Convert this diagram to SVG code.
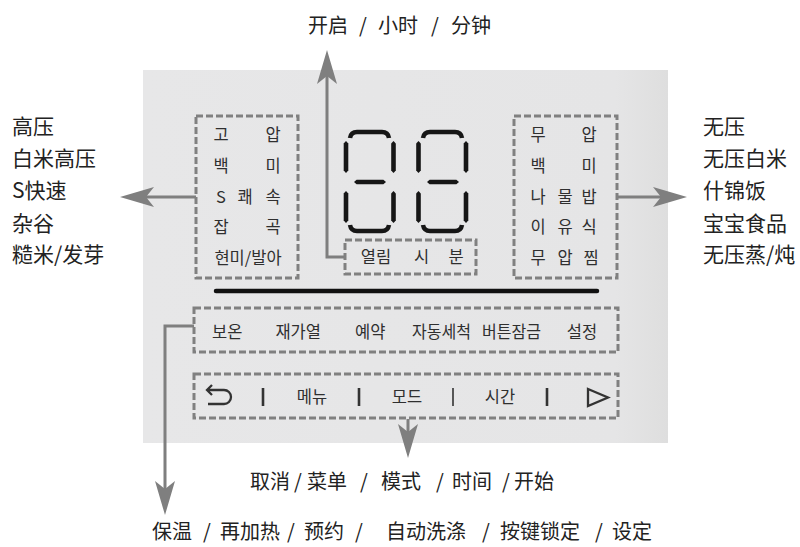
<svg xmlns="http://www.w3.org/2000/svg" xmlns:xlink="http://www.w3.org/1999/xlink" width="800" height="547" viewBox="0 0 800 547">
  <style>
    .zh { font-family: "Noto Sans CJK SC", "Noto Sans", sans-serif; font-size: 21px; fill: #222; }
    .zs { font-family: "Noto Sans CJK SC", "Noto Sans", sans-serif; font-size: 20px; fill: #222; }
    .ko { font-family: "Noto Sans CJK KR", "Noto Sans", sans-serif; font-size: 16.5px; fill: #2f2f2f; }
    .dash { fill: none; stroke: #808080; stroke-width: 3; stroke-dasharray: 7 3; }
    .conn { fill: none; stroke: #7f7f7f; stroke-width: 3; }
    .seg { fill: #161616; }
    .segc { fill: none; stroke: #161616; stroke-width: 4.5; }
    .ico { fill: none; stroke: #333; stroke-width: 2.3; }
  </style>
  <defs>
    <linearGradient id="pg" x1="0" y1="0" x2="1" y2="0">
      <stop offset="0" stop-color="#e7e7e8"/>
      <stop offset="0.9" stop-color="#e5e5e6"/>
      <stop offset="1" stop-color="#dedede"/>
    </linearGradient>
    <marker id="ah" viewBox="0 0 34 20" refX="8" refY="10" markerWidth="34" markerHeight="20" markerUnits="userSpaceOnUse" orient="auto">
      <path d="M0,0 L34,10 L0,20 L8,10 Z" fill="#7f7f7f"/>
    </marker>
    <path id="vseg" d="M0,0 L2.3,2.6 L2.3,29.4 L0,32 L-2.3,29.4 L-2.3,2.6 Z"/>
    <path id="hseg" d="M0,0 L2.6,-2.3 L29.4,-2.3 L32,0 L29.4,2.3 L2.6,2.3 Z"/>
  </defs>

  <rect width="800" height="547" fill="#ffffff"/>
  <g id="panel">
    <rect x="143" y="70" width="525" height="373" fill="url(#pg)"/>
    <line x1="216" y1="291" x2="597" y2="291" stroke="#111" stroke-width="4.5" stroke-linecap="round"/>
  </g>

  <g id="connectors">
    <path class="conn" d="M196,197 L146,197" marker-end="url(#ah)"/>
    <path class="conn" d="M617,197 L661,197" marker-end="url(#ah)"/>
    <path class="conn" d="M345,257 L327,257 L327,76" marker-end="url(#ah)"/>
    <path class="conn" d="M408,419 L408,432" marker-end="url(#ah)"/>
    <path class="conn" d="M194,326 L165,326 L165,489" marker-end="url(#ah)"/>
  </g>

  <g id="node-pressure-box">
    <rect class="dash" x="196" y="116" width="102" height="162"/>
    <text class="ko" text-anchor="middle">
      <tspan x="221" y="141">고</tspan><tspan x="275" y="141">압</tspan>
      <tspan x="221" y="172">백</tspan><tspan x="275" y="172">미</tspan>
      <tspan x="221" y="203">S</tspan><tspan x="245" y="203">쾌</tspan><tspan x="275" y="203">속</tspan>
      <tspan x="221" y="233">잡</tspan><tspan x="275" y="233">곡</tspan>
      <tspan x="248" y="264">현미/발아</tspan>
    </text>
  </g>

  <g id="node-nopressure-box">
    <rect class="dash" x="514" y="116" width="103" height="162"/>
    <text class="ko" text-anchor="middle">
      <tspan x="538" y="141">무</tspan><tspan x="591" y="141">압</tspan>
      <tspan x="538" y="172">백</tspan><tspan x="591" y="172">미</tspan>
      <tspan x="538" y="203">나</tspan><tspan x="565" y="203">물</tspan><tspan x="591" y="203">밥</tspan>
      <tspan x="538" y="233">이</tspan><tspan x="565" y="233">유</tspan><tspan x="591" y="233">식</tspan>
      <tspan x="538" y="264">무</tspan><tspan x="565" y="264">압</tspan><tspan x="591" y="264">찜</tspan>
    </text>
  </g>

  <g id="node-digits">
    <path class="segc" d="M350,138 Q351,132 357,132 L382,132 Q388,132 389,138"/>
    <use href="#vseg" class="seg" x="346" y="141"/>
    <use href="#vseg" class="seg" x="393.5" y="141"/>
    <use href="#hseg" class="seg" x="354" y="182"/>
    <use href="#vseg" class="seg" x="346" y="191"/>
    <use href="#vseg" class="seg" x="393.5" y="191"/>
    <path class="segc" d="M350,225 Q351,231 357,231 L382,231 Q388,231 389,225"/>

    <path class="segc" d="M423,138 Q424,132 430,132 L455,132 Q461,132 462,138"/>
    <use href="#vseg" class="seg" x="418.5" y="141"/>
    <use href="#vseg" class="seg" x="466" y="141"/>
    <use href="#hseg" class="seg" x="427" y="182"/>
    <use href="#vseg" class="seg" x="418.5" y="191"/>
    <use href="#vseg" class="seg" x="466" y="191"/>
    <path class="segc" d="M423,225 Q424,231 430,231 L455,231 Q461,231 462,225"/>
  </g>

  <g id="node-time-box">
    <rect class="dash" x="345" y="240" width="131" height="34"/>
    <text class="ko" text-anchor="middle" y="263">
      <tspan x="376">열림</tspan><tspan x="421.5">시</tspan><tspan x="456">분</tspan>
    </text>
  </g>

  <g id="node-function-box">
    <rect class="dash" x="194" y="308" width="424" height="44"/>
    <text class="ko" text-anchor="middle" y="338">
      <tspan x="229">보온</tspan>
      <tspan x="300">재가열</tspan>
      <tspan x="372">예약</tspan>
      <tspan x="582">설정</tspan>
    </text>
    <text class="ko" x="412" y="338" textLength="59" lengthAdjust="spacingAndGlyphs">자동세척</text>
    <text class="ko" x="482" y="338" textLength="59" lengthAdjust="spacingAndGlyphs">버튼잠금</text>
  </g>

  <g id="node-button-box">
    <rect class="dash" x="194" y="374" width="424" height="44"/>
    <path class="ico" d="M207,390 L224,390 A7,7 0 0 1 224,404 L208,404 M212,385 L207,390 L212,395"/>
    <line x1="263" y1="388" x2="263" y2="406" stroke="#333" stroke-width="2.6"/>
    <line x1="359" y1="388" x2="359" y2="406" stroke="#333" stroke-width="2.6"/>
    <line x1="453" y1="388" x2="453" y2="406" stroke="#333" stroke-width="1.6"/>
    <line x1="547" y1="388" x2="547" y2="406" stroke="#333" stroke-width="2.6"/>
    <text class="ko" text-anchor="middle" y="403">
      <tspan x="312">메뉴</tspan><tspan x="407">모드</tspan><tspan x="500">시간</tspan>
    </text>
    <path class="ico" d="M588,389 L608,397.5 L588,406 Z"/>
  </g>

  <g id="labels">
    <text class="zs" x="308" y="33">开启<tspan x="359">/</tspan><tspan x="378">小时</tspan><tspan x="431">/</tspan><tspan x="451">分钟</tspan></text>
    <text class="zh" x="12">
      <tspan x="12" y="134">高压</tspan>
      <tspan x="12" y="166">白米高压</tspan>
      <tspan x="12" y="198">S快速</tspan>
      <tspan x="12" y="231">杂谷</tspan>
      <tspan x="12" y="262">糙米/发芽</tspan>
    </text>
    <text class="zh" x="703">
      <tspan x="703" y="134">无压</tspan>
      <tspan x="703" y="166">无压白米</tspan>
      <tspan x="703" y="198">什锦饭</tspan>
      <tspan x="703" y="231">宝宝食品</tspan>
      <tspan x="703" y="262">无压蒸/炖</tspan>
    </text>
    <text class="zs" y="489">
      <tspan x="250">取消</tspan><tspan x="294">/</tspan><tspan x="307">菜单</tspan><tspan x="360">/</tspan><tspan x="381">模式</tspan><tspan x="436">/</tspan><tspan x="452">时间</tspan><tspan x="502">/</tspan><tspan x="514">开始</tspan>
    </text>
    <text class="zs" y="539">
      <tspan x="152">保温</tspan><tspan x="203">/</tspan><tspan x="220">再加热</tspan><tspan x="287">/</tspan><tspan x="304">预约</tspan><tspan x="355">/</tspan><tspan x="386">自动洗涤</tspan><tspan x="482">/</tspan><tspan x="500">按键锁定</tspan><tspan x="595">/</tspan><tspan x="612">设定</tspan>
    </text>
  </g>
</svg>
